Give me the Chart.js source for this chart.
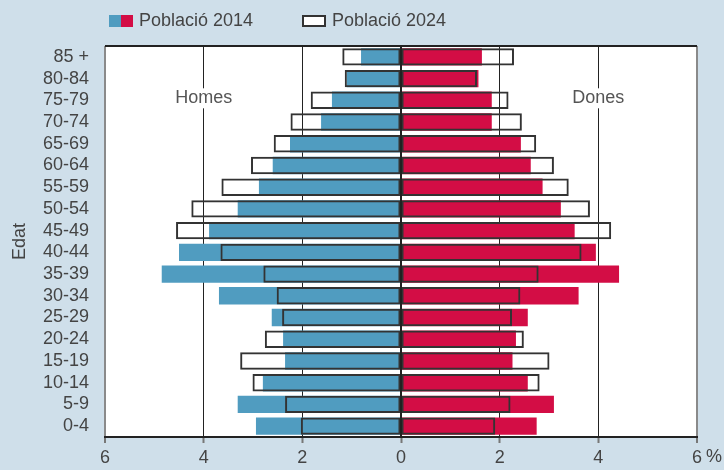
<!DOCTYPE html>
<html>
<head>
<meta charset="utf-8">
<script src="https://cdn.jsdelivr.net/npm/chart.js@4.4.1/dist/chart.umd.min.js"></script>
<style>
  html, body { margin: 0; padding: 0; background: #cfdfea; }
  #wrap { position: relative; width: 724px; height: 470px; }
  #legend { position: absolute; left: 0; top: 0; width: 724px; height: 40px;
            font-family: "Liberation Sans", Arial, sans-serif; font-size: 18px; color: #444; }
  .item { position: absolute; top: 9px; line-height: 22px; white-space: nowrap; }
  .box { display: inline-block; width: 24px; height: 12px; vertical-align: -1px; margin-right: 6px; box-sizing: border-box; }
</style>
</head>
<body>
<div id="wrap">
  <canvas id="chart" width="724" height="470"></canvas>
  <div id="legend">
    <div class="item" style="left:109px">
      <span class="box" style="background:linear-gradient(to right,#509cc0 50%,#d30d45 50%)"></span>Població 2014
    </div>
    <div class="item" style="left:302px">
      <span class="box" style="background:#fff;border:2px solid #333"></span>Població 2024
    </div>
  </div>
</div>
<script>
const edats = ['85 +', '80-84', '75-79', '70-74', '65-69', '60-64', '55-59', '50-54', '45-49',
               '40-44', '35-39', '30-34', '25-29', '20-24', '15-19', '10-14', '5-9', '0-4'];
// % of population (top to bottom)
const homes2014 = [0.81, 1.10, 1.40, 1.62, 2.25, 2.60, 2.88, 3.31, 3.89, 4.50, 4.85, 3.69, 2.62, 2.39, 2.35, 2.80, 3.31, 2.94];
const homes2024 = [1.19, 1.14, 1.83, 2.24, 2.58, 3.04, 3.64, 4.25, 4.56, 3.66, 2.79, 2.52, 2.41, 2.76, 3.26, 3.01, 2.35, 2.03];
const dones2014 = [1.64, 1.57, 1.84, 1.84, 2.43, 2.63, 2.87, 3.24, 3.52, 3.95, 4.42, 3.60, 2.57, 2.33, 2.26, 2.57, 3.10, 2.75];
const dones2024 = [2.29, 1.54, 2.18, 2.45, 2.74, 3.10, 3.40, 3.83, 4.26, 3.66, 2.79, 2.42, 2.25, 2.49, 3.01, 2.81, 2.22, 1.91];
const xTicks = [-6, -4, -2, 0, 2, 4, 6];

const FONT = '"Liberation Sans", Arial, sans-serif';
const BLUE = '#509cc0';
const RED = '#d30d45';
const LINE = '#333333';

const plotDecor = {
    id: 'plotDecor',
    beforeDraw(chart) {
        const { ctx, chartArea: a } = chart;
        ctx.save();
        ctx.fillStyle = '#ffffff';
        ctx.fillRect(a.left, a.top, a.right - a.left, a.bottom - a.top);
        ctx.restore();
    },
    beforeDatasetsDraw(chart) {
        const { ctx, scales } = chart;
        const y = scales.y.getPixelForValue(2) - 2;
        ctx.save();
        ctx.font = '18px ' + FONT;
        ctx.textAlign = 'center';
        ctx.textBaseline = 'middle';
        [['Homes', -4], ['Dones', 4]].forEach(([txt, v]) => {
            const x = scales.x.getPixelForValue(v);
            const w = ctx.measureText(txt).width;
            ctx.fillStyle = '#ffffff';
            ctx.fillRect(x - w / 2 - 2, y - 10, w + 4, 20);
            ctx.fillStyle = '#555';
            ctx.fillText(txt, x, y);
        });
        ctx.restore();
    },
    afterDatasetsDraw(chart) {
        const { ctx, chartArea: a, scales } = chart;
        const x0 = scales.x.getPixelForValue(0);
        ctx.save();
        ctx.strokeStyle = '#222';
        ctx.lineWidth = 2;
        ctx.beginPath();
        ctx.moveTo(x0, a.top);
        ctx.lineTo(x0, a.bottom);
        ctx.moveTo(a.left, a.top);
        ctx.lineTo(a.right, a.top);
        ctx.stroke();
        ctx.restore();
    },
    afterDraw(chart) {
        const { ctx, scales } = chart;
        const x6 = scales.x.getPixelForValue(6);
        ctx.save();
        ctx.font = '18px ' + FONT;
        ctx.fillStyle = '#444';
        ctx.textBaseline = 'middle';
        ctx.fillText('%', x6 + 9, 457);
        ctx.restore();
    }
};

new Chart(document.getElementById('chart'), {
    type: 'bar',
    data: {
        labels: edats,
        datasets: [
            { label: 'Homes 2024', data: homes2024.map(v => -v), backgroundColor: 'rgba(0,0,0,0)',
              borderColor: LINE, borderWidth: 2, borderSkipped: false, order: 0 },
            { label: 'Dones 2024', data: dones2024, backgroundColor: 'rgba(0,0,0,0)',
              borderColor: LINE, borderWidth: 2, borderSkipped: false, order: 0 },
            { label: 'Homes 2014', data: homes2014.map(v => -v), backgroundColor: BLUE, borderWidth: 0, order: 1 },
            { label: 'Dones 2014', data: dones2014, backgroundColor: RED, borderWidth: 0, order: 1 },
        ],
    },
    options: {
        indexAxis: 'y',
        responsive: false,
        animation: false,
        maintainAspectRatio: false,
        layout: { padding: { top: 46, right: 27, left: 0, bottom: 0 } },
        datasets: { bar: { categoryPercentage: 1, barPercentage: 0.8 } },
        plugins: {
            legend: { display: false },
            tooltip: { enabled: false },
        },
        scales: {
            x: {
                min: -6,
                max: 6,
                afterBuildTicks(scale) { scale.ticks = xTicks.map(v => ({ value: v })); },
                afterFit(scale) { scale.height = 33; },
                grid: {
                    color: ctx => Math.abs(ctx.tick.value) === 6 ? '#8a8a8a' : '#222',
                    lineWidth: ctx => Math.abs(ctx.tick.value) === 6 ? 2 : 1,
                    tickLength: 6,
                    tickColor: '#777',
                    tickWidth: 2,
                },
                border: { color: '#222', width: 2 },
                ticks: {
                    callback: v => String(Math.abs(v)),
                    color: '#444',
                    font: { family: FONT, size: 18 },
                    padding: 4,
                    maxRotation: 0,
                },
            },
            y: {
                stacked: true,
                afterFit(scale) { scale.width = 105; },
                grid: { display: false },
                border: { display: false },
                ticks: {
                    autoSkip: false,
                    color: '#444',
                    font: { family: FONT, size: 18 },
                    padding: 8,
                },
                title: {
                    display: true,
                    text: 'Edat',
                    color: '#444',
                    font: { family: FONT, size: 18 },
                    padding: { top: 9, bottom: 0 },
                },
            },
        },
    },
    plugins: [plotDecor],
});
</script>
</body>
</html>
